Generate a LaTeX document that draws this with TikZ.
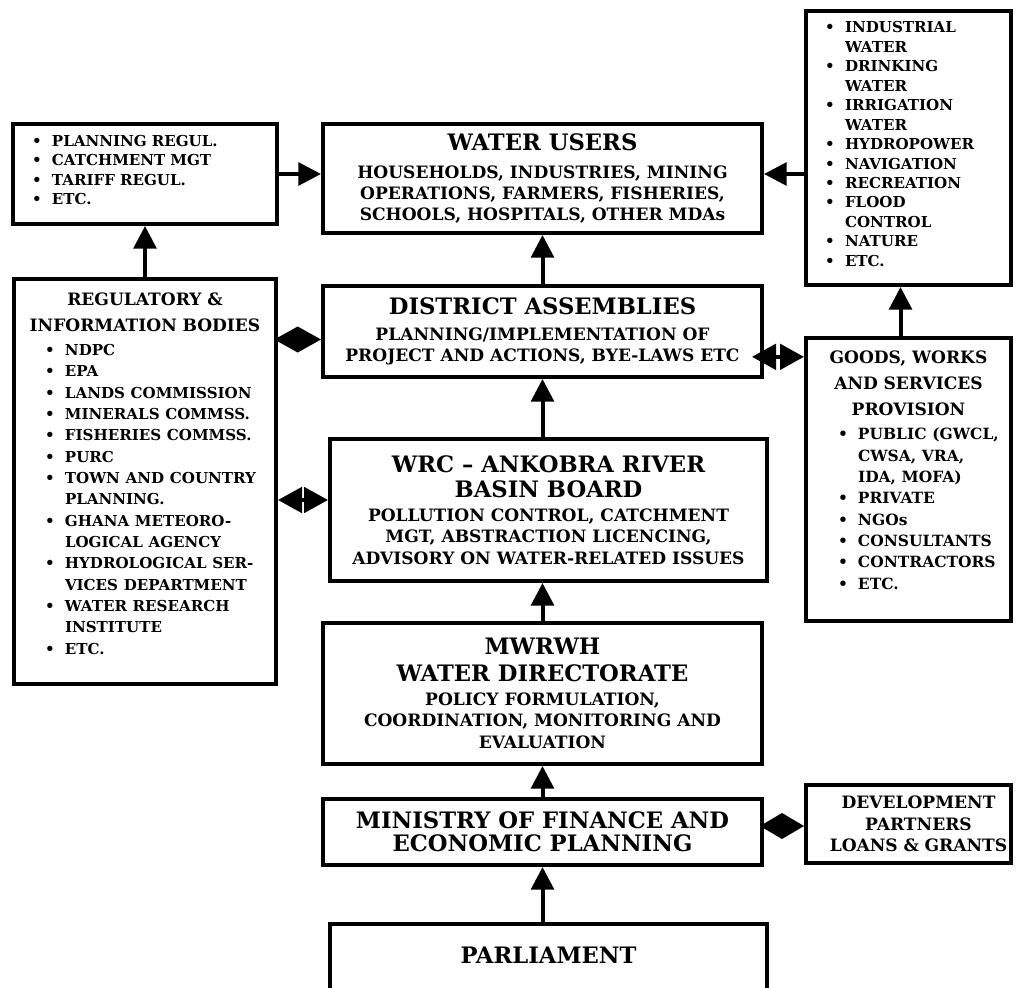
\documentclass[tikz,border=0pt]{standalone}
\usepackage{fontspec}
\setmainfont{DejaVu Serif}
\usetikzlibrary{arrows.meta}

\newcommand\ttl{\fontsize{17}{19.5}\selectfont}
\newcommand\bdy{\fontsize{12.8}{16}\selectfont}
\newcommand\sml{\fontsize{11.3}{14.6}\selectfont}
\newcommand\bul[1]{\hspace*{#1}\makebox[15pt][l]{\textbullet}}
\newcommand\cnt[1]{\hspace*{\dimexpr#1+15pt\relax}}
\newcommand\off[1]{\makebox[\linewidth]{\hspace{15pt}#1}}

\begin{document}
\begin{tikzpicture}[x=0.75pt, y=-0.75pt,
        box/.style={draw, line width=3pt, align=center, inner sep=4pt, font=\bfseries\bdy},
        listbox/.style={box, align=left, inner xsep=4pt},
        flow/.style={line width=3pt, -{Triangle[length=17pt,width=17pt]}},
        twoway/.style={line width=3pt, {Triangle[length=18pt,width=19pt]}-{Triangle[length=18pt,width=19pt]}},
        diamondlink/.style args={#1/#2}{line width=3pt, -{Kite[length=#1,width=19.5pt,inset=#2]}}]
    \useasboundingbox (0,0) rectangle (1019,987);
    \clip (0,0) rectangle (1019,987);

    % top row
    \node[listbox, minimum width=198pt, minimum height=75pt, text width=190pt, font=\bfseries\sml] (plan) at (145,174)
        {\bul{10.25pt}PLANNING REGUL.\\ \bul{10.25pt}CATCHMENT MGT\\ \bul{10.25pt}TARIFF REGUL.\\ \bul{10.25pt}ETC.\rule[-6pt]{0pt}{0pt}};
    \node[box, minimum width=329.25pt, minimum height=81.75pt] (users) at (542.5,178.5)
        {{\ttl WATER USERS}\\[5pt] HOUSEHOLDS, INDUSTRIES, MINING\\ OPERATIONS, FARMERS, FISHERIES,\\ SCHOOLS, HOSPITALS, OTHER MDAs};
    \node[listbox, minimum width=153.75pt, minimum height=205.5pt, text width=145.75pt, font=\bfseries\sml] (uses) at (908.5,148)
        {\bul{10.25pt}INDUSTRIAL\\ \cnt{10.25pt}WATER\\ \bul{10.25pt}DRINKING\\ \cnt{10.25pt}WATER\\
         \bul{10.25pt}IRRIGATION\\ \cnt{10.25pt}WATER\\ \bul{10.25pt}HYDROPOWER\\ \bul{10.25pt}NAVIGATION\\
         \bul{10.25pt}RECREATION\\ \bul{10.25pt}FLOOD\\ \cnt{10.25pt}CONTROL\\ \bul{10.25pt}NATURE\\ \bul{10.25pt}ETC.\rule[-6pt]{0pt}{0pt}};

    % middle
    \node[listbox, minimum width=196.5pt, minimum height=303.75pt, text width=188.5pt] (reg) at (145,481.5)
        {{\bdy\baselineskip=19.5pt \makebox[\linewidth]{REGULATORY \&}\\ \makebox[\linewidth]{INFORMATION BODIES}\par}
         \vspace{2pt}\fontsize{11.3}{16}\selectfont
         \bul{19.25pt}NDPC\\ \bul{19.25pt}EPA\\ \bul{19.25pt}LANDS COMMISSION\\ \bul{19.25pt}MINERALS COMMSS.\\
         \bul{19.25pt}FISHERIES COMMSS.\\ \bul{19.25pt}PURC\\ \bul{19.25pt}TOWN AND COUNTRY\\ \cnt{19.25pt}PLANNING.\\
         \bul{19.25pt}GHANA METEORO-\\ \cnt{19.25pt}LOGICAL AGENCY\\ \bul{19.25pt}HYDROLOGICAL SER-\\ \cnt{19.25pt}VICES DEPARTMENT\\
         \bul{19.25pt}WATER RESEARCH\\ \cnt{19.25pt}INSTITUTE\\ \bul{19.25pt}ETC.\rule[-12pt]{0pt}{0pt}};
    \node[box, minimum width=329.25pt, minimum height=68.25pt] (district) at (542.5,331.5)
        {{\ttl DISTRICT ASSEMBLIES}\\[3pt] PLANNING/IMPLEMENTATION OF\\ PROJECT AND ACTIONS, BYE-LAWS ETC};
    \node[listbox, minimum width=153.75pt, minimum height=212.25pt, text width=145.75pt] (goods) at (908.5,479.5)
        {{\bdy\baselineskip=19.5pt \makebox[\linewidth]{GOODS, WORKS}\\ \makebox[\linewidth]{AND SERVICES}\\ \makebox[\linewidth]{PROVISION}\par}
         \vspace{2pt}\fontsize{11.6}{16}\selectfont
         \bul{20pt}PUBLIC (GWCL,\\ \cnt{20pt}CWSA, VRA,\\ \cnt{20pt}IDA, MOFA)\\ \bul{20pt}PRIVATE\\
         \bul{20pt}NGOs\\ \bul{20pt}CONSULTANTS\\ \bul{20pt}CONTRACTORS\\ \bul{20pt}ETC.\rule[-14pt]{0pt}{0pt}};
    \node[box, minimum width=327.75pt, minimum height=106.5pt] (wrc) at (548.5,510)
        {{\ttl WRC – ANKOBRA RIVER}\\[3pt] {\ttl BASIN BOARD}\\[2pt] POLLUTION CONTROL, CATCHMENT\\
         MGT, ABSTRACTION LICENCING,\\ ADVISORY ON WATER-RELATED ISSUES};
    \node[box, minimum width=329.25pt, minimum height=105.75pt] (mwrwh) at (542.5,693.5)
        {{\ttl MWRWH}\\[4pt] {\ttl WATER DIRECTORATE}\\[2pt] POLICY FORMULATION,\\ COORDINATION, MONITORING AND\\ EVALUATION};

    % bottom
    \node[listbox, minimum width=153.75pt, minimum height=58.5pt, text width=145.75pt] (partners) at (908.5,824)
        {\off{DEVELOPMENT}\\ \off{PARTNERS}\\ \off{LOANS \& GRANTS}};
    \node[box, minimum width=329.25pt, minimum height=49.5pt] (mof) at (542.5,832)
        {{\ttl MINISTRY OF FINANCE AND}\\[1pt] {\ttl ECONOMIC PLANNING}};
    \node[box, anchor=north, minimum width=327.75pt, inner ysep=17pt] (parl) at (548.5,922)
        {{\ttl PARLIAMENT}\rule[-70pt]{0pt}{0pt}};

    \coordinate (dl) at ([yshift=-6pt]district.west);
    \coordinate (wl) at ([yshift=7.5pt]wrc.west);
    \coordinate (dr) at ([yshift=-19pt]district.east);
    \coordinate (mr) at ([yshift=4.5pt]mof.east);

    \draw[flow] (plan.east) -- (users.west |- plan.east);
    \draw[flow] (reg.north) -- (plan.south);
    \draw[flow] (uses.west |- plan.east) -- (users.east |- plan.east);
    \draw[flow] ([xshift=-6pt]goods.north) -- ([xshift=-6pt]uses.south);
    \draw[flow] (district.north) -- (users.south);
    \draw[flow] (district.south |- wrc.north) -- (district.south);
    \draw[flow] (mwrwh.north) -- (mwrwh.north |- wrc.south);
    \draw[flow] (mof.north) -- (mwrwh.south);
    \draw[flow] (mof.south |- parl.north) -- (mof.south);

    \draw[diamondlink=35pt/17.5pt] (dl -| reg.east) -- (dl);
    \draw[twoway] (wl -| reg.east) -- (wl);
    \draw[twoway, shorten <=-9pt] (dr) -- (dr -| goods.west);
    \draw[diamondlink=33pt/16.5pt] (mr) -- (mr -| partners.west);
\end{tikzpicture}
\end{document}
